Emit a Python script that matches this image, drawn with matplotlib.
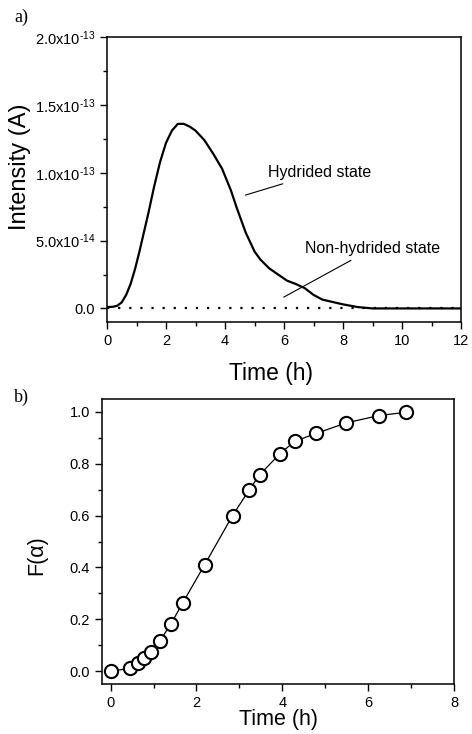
import matplotlib
matplotlib.use("Agg")
import matplotlib.pyplot as plt
from matplotlib.ticker import MultipleLocator, FuncFormatter

plt.rcParams['font.family'] = ['Liberation Sans', 'DejaVu Sans']
plt.rcParams['mathtext.fontset'] = 'custom'
plt.rcParams['mathtext.rm'] = 'Liberation Sans'
plt.rcParams['mathtext.default'] = 'regular'

# a) hydrogen desorption signal (intensity in units of 1e-13 A)
t_hyd = [0, 0.2, 0.35, 0.5, 0.65, 0.8, 0.95, 1.1, 1.25, 1.4, 1.6, 1.8, 2.0,
         2.2, 2.4, 2.6, 2.8, 3.0, 3.3, 3.6, 3.9, 4.2, 4.4, 4.7, 5.0, 5.2,
         5.5, 5.8, 6.1, 6.4, 6.7, 7.0, 7.3, 7.6, 8.0, 8.5, 9.0, 10, 11, 12]
i_hyd = [0.01, 0.012, 0.02, 0.045, 0.10, 0.18, 0.29, 0.42, 0.56, 0.70, 0.90,
         1.08, 1.22, 1.31, 1.36, 1.36, 1.34, 1.31, 1.24, 1.14, 1.03, 0.87,
         0.74, 0.56, 0.42, 0.36, 0.295, 0.25, 0.205, 0.18, 0.15, 0.10, 0.065,
         0.05, 0.03, 0.01, 0.0, 0.0, 0.0, 0.0]
t_non = [0, 2, 4, 6, 8, 10, 12]
i_non = [0, 0, 0, 0, 0, 0, 0]
intensity_ticks = [0.0, 0.5e-13, 1.0e-13, 1.5e-13, 2.0e-13]

# b) transformed fraction
t_frac = [0, 0.45, 0.63, 0.79, 0.95, 1.15, 1.40, 1.68, 2.19, 2.84, 3.22,
          3.47, 3.94, 4.29, 4.79, 5.49, 6.25, 6.89]
f_frac = [0.0, 0.01, 0.032, 0.049, 0.074, 0.117, 0.18, 0.263, 0.41, 0.60,
          0.697, 0.757, 0.838, 0.887, 0.917, 0.958, 0.986, 0.999]


def sci_fmt(v, pos):
    if abs(v) < 1e-20:
        return '0.0'
    exp = int(f'{v:e}'.split('e')[1])
    mant = v / 10**exp
    # plain hyphen in the exponent, like the original figure
    return f'{mant:.1f}x10$^{{\\text{{-}}{abs(exp)}}}$'


fig = plt.figure(figsize=(4.72, 7.34), dpi=100)
ax1 = fig.add_axes([0.2267, 0.5613, 0.75, 0.3883])
ax2 = fig.add_axes([0.2161, 0.0681, 0.7458, 0.3883])

scale = 1e-13
ax1.plot(t_hyd, [v * scale for v in i_hyd], color='black', lw=1.6)
ax1.plot(t_non, [v * scale for v in i_non], color='black', lw=1.6,
         linestyle=(0, (1, 4)))
ax1.set_xlim(0, 12)
ax1.set_ylim(-0.1e-13, 2.0e-13)
ax1.xaxis.set_major_locator(MultipleLocator(2))
ax1.xaxis.set_minor_locator(MultipleLocator(1))
ax1.set_yticks(intensity_ticks)
ax1.yaxis.set_minor_locator(MultipleLocator(0.25e-13))
ax1.yaxis.set_major_formatter(FuncFormatter(sci_fmt))
ax1.set_xlabel('Time (h)', fontsize=16.5)
ax1.xaxis.set_label_coords(0.463, -0.14)
ax1.set_ylabel('Intensity (A)', fontsize=17)
ax1.yaxis.set_label_coords(-0.215, 0.544)
ax1.annotate('Hydrided state', xy=(4.69, 0.835e-13), xytext=(5.45, 1.0e-13),
             fontsize=11.5, va='center', ha='left',
             arrowprops=dict(arrowstyle='-', lw=0.8, color='black',
                             shrinkA=2, shrinkB=0))
ax1.annotate('Non-hydrided state', xy=(5.99, 0.083e-13), xytext=(6.7, 0.44e-13),
             fontsize=11.5, va='center', ha='left',
             arrowprops=dict(arrowstyle='-', lw=0.8, color='black',
                             shrinkA=2, shrinkB=0))

ax2.plot(t_frac, f_frac, color='black', lw=0.9, marker='o', markersize=9.5,
         markerfacecolor='white', markeredgecolor='black', markeredgewidth=1.5)
ax2.set_xlim(-0.2, 8)
ax2.set_ylim(-0.05, 1.05)
ax2.xaxis.set_major_locator(MultipleLocator(2))
ax2.xaxis.set_minor_locator(MultipleLocator(1))
ax2.yaxis.set_major_locator(MultipleLocator(0.2))
ax2.yaxis.set_minor_locator(MultipleLocator(0.1))
ax2.yaxis.set_major_formatter(FuncFormatter(lambda v, p: f'{v:.1f}'))
ax2.set_xlabel('Time (h)', fontsize=15.5)
ax2.xaxis.set_label_coords(0.5, -0.088)
ax2.set_ylabel('F(α)', fontsize=15.5)
ax2.yaxis.set_label_coords(-0.156, 0.453)

for ax in (ax1, ax2):
    ax.tick_params(which='both', direction='out', top=False, right=False,
                   labelsize=10.5, width=1)
    ax.tick_params(which='major', length=5)
    ax.tick_params(which='minor', length=3)
    for sp in ax.spines.values():
        sp.set_linewidth(1.1)

fig.text(0.03, 0.976, 'a)', family='Liberation Serif', fontsize=13,
         va='center', ha='left')
fig.text(0.03, 0.458, 'b)', family='Liberation Serif', fontsize=13,
         va='center', ha='left')

fig.savefig('out.png', dpi=100)
